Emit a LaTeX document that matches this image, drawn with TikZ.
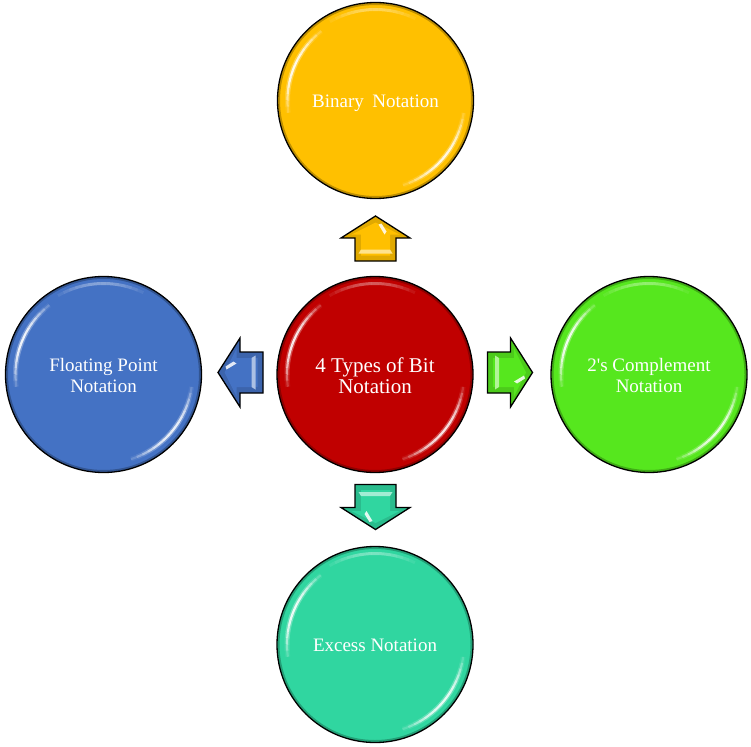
\documentclass[tikz,border=0pt]{standalone}
\usepackage{fontspec}
\setmainfont{Liberation Serif}
\usetikzlibrary{calc}
\definecolor{cYel}{RGB}{255,192,0}
\definecolor{cRed}{RGB}{192,0,0}
\definecolor{cGrn}{RGB}{86,231,30}
\definecolor{cBlu}{RGB}{68,114,196}
\definecolor{cTea}{RGB}{48,214,160}
\tikzset{
  bubble/.style={circle, draw=black, line width=1.3pt, minimum size=196pt, inner sep=0pt,
    text=white, align=center, font=\fontsize{19}{20.5}\selectfont},
  hub/.style={bubble, font=\fontsize{21}{21.5}\selectfont},
  label19/.style={text=white, align=center, font=\fontsize{19}{20.5}\selectfont},
  label21/.style={text=white, align=center, font=\fontsize{21}{21.5}\selectfont},
  arrowbody/.style={line width=1.3pt, draw=black, line join=miter},
}
\newcommand\glossy[1]{%
  \foreach \a in {168,172,...,232}{%
    \pgfmathsetmacro\op{0.9*sin((\a-168)*180/64)}%
    \draw[white, line width=5pt, opacity=0.35*\op] ([shift={(#1)}]\a:88) arc[start angle=\a, end angle=\a+4, radius=88];
    \draw[white, line width=2.2pt, opacity=\op] ([shift={(#1)}]\a:88) arc[start angle=\a, end angle=\a+4, radius=88];
  }%
  \foreach \a in {4,8,...,72}{%
    \pgfmathsetmacro\op{0.85*sin((\a-4)*180/68)}%
    \draw[white, line width=5pt, opacity=0.35*\op] ([shift={(#1)}]\a:89) arc[start angle=\a, end angle=\a+4, radius=89];
    \draw[white, line width=2.2pt, opacity=\op] ([shift={(#1)}]\a:89) arc[start angle=\a, end angle=\a+4, radius=89];
  }%
  \foreach \a in {236,240,...,296}{%
    \pgfmathsetmacro\op{0.35*sin((\a-236)*180/60)}%
    \draw[white, line width=3pt, opacity=\op] ([shift={(#1)}]\a:91) arc[start angle=\a, end angle=\a+4, radius=91];
  }%
  \draw[black, opacity=0.25, line width=2pt] (#1) circle[radius=96.5];
}
% arrow pointing up in local coordinates (y down), centred at origin
\newcommand\bigarrow[3]{% #1 position, #2 rotation, #3 colour
  \begin{scope}[shift={#1}, rotate=#2]
    \fill[#3!88!black] (0,-22.5) -- (34.5,-0.5) -- (20.5,-0.5) -- (20.5,22.5) -- (-20.5,22.5) -- (-20.5,-0.5) -- (-34.5,-0.5) -- cycle;
    \fill[#3] (0,-16) -- (24,-4) -- (14.5,-4) -- (14.5,17) -- (-14.5,17) -- (-14.5,-4) -- (-24,-4) -- cycle;
    \fill[#3!45!white] (-14.5,11) -- (14.5,11) -- (17,15) -- (-17,15) -- cycle;
    \fill[white, opacity=0.85] (3,-14) -- (6,-15) -- (11,-7) -- (9,-4) -- cycle;
    \draw[arrowbody] (0,-22.5) -- (34.5,-0.5) -- (20.5,-0.5) -- (20.5,22.5) -- (-20.5,22.5) -- (-20.5,-0.5) -- (-34.5,-0.5) -- cycle;
  \end{scope}
}
\begin{document}
\begin{tikzpicture}[x=1pt,y=-1pt]
\useasboundingbox (0,0) rectangle (751,746);
\fill[white] (0,0) rectangle (751,746);

\node[hub, fill=cRed] (core) at (375,374.5) {};
\node[bubble, fill=cYel] (bin) at (375.5,100.5) {};
\node[bubble, fill=cBlu] (flt) at (103.5,374.5) {};
\node[bubble, fill=cGrn] (cmp) at (649,374.5) {};
\node[bubble, fill=cTea] (exc) at (375,644.5) {};

\glossy{core}
\glossy{bin}
\glossy{flt}
\glossy{cmp}
\glossy{exc}

\node[label21] (coretext) at ([yshift=-1]core) {4 Types of Bit\\Notation};
\node[label19] (bintext) at ([yshift=-3]bin) {Binary\hspace{0.45em}Notation};
\node[label19] (flttext) at ([yshift=-1]flt) {Floating Point\\Notation};
\node[label19] (cmptext) at ([yshift=-1]cmp) {2\textquotesingle s Complement\\Notation};
\node[label19] (exctext) at ([yshift=-0.5]exc) {Excess Notation};

\bigarrow{(375.5,238.5)}{0}{cYel}
\bigarrow{(240.5,372.5)}{90}{cBlu}
\bigarrow{(510,372.5)}{-90}{cGrn}
\bigarrow{(375.5,507)}{180}{cTea}
\end{tikzpicture}
\end{document}
